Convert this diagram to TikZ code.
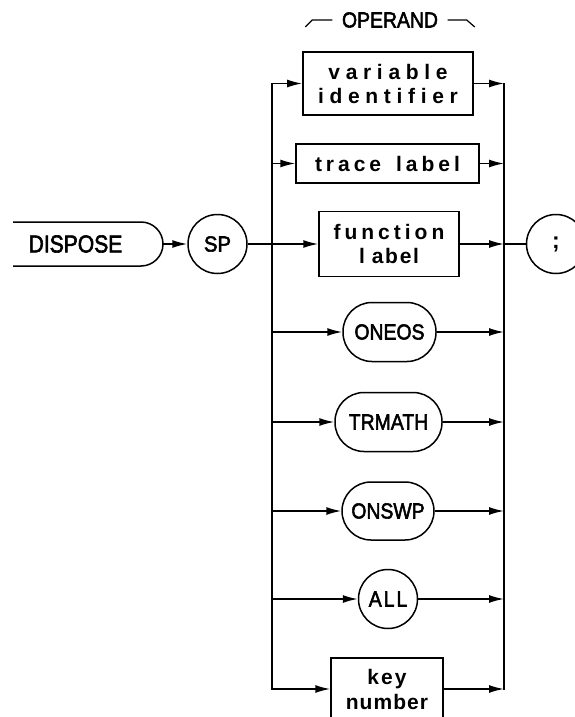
\documentclass[tikz,border=0pt]{standalone}
\usepackage{graphicx}
\usepackage{fontspec}
\setmainfont{Liberation Sans}
\newfontfamily\lowfont[LetterSpace=19]{Liberation Sans Bold}
\newfontfamily\capfont[FakeBold=2.5]{Liberation Sans}
\newcommand{\cn}[1]{\scalebox{0.89}[1]{#1}}
\usetikzlibrary{arrows.meta}
\begin{document}
\begin{tikzpicture}[x=1pt,y=-1pt,line width=1.5pt,
  arr/.style={-{Latex[length=15pt,width=8pt]}},
  bus/.style={line cap=rect},
  lbox/.style={draw,rectangle,align=center,inner sep=0pt,
    font=\lowfont\fontsize{21}{24}\selectfont},
  pill/.style={draw,rectangle,rounded corners=29pt,inner sep=0pt,minimum height=59pt,
    font=\capfont\fontsize{21.8}{24}\selectfont},
  rnd/.style={draw,circle,inner sep=0pt,minimum size=59pt,
    font=\capfont\fontsize{21.8}{24}\selectfont},
  plain/.style={inner sep=0pt,font=\capfont\fontsize{21.8}{24}\selectfont}]
\useasboundingbox (0,0) rectangle (574,717);

% header
\node[plain] (operand) at (390,20) {\cn{OPERAND}};
\draw[line width=1.2pt] ([xshift=-36pt,yshift=-7pt]operand.west) -- ([xshift=-29pt]operand.west) -- ([xshift=-9pt]operand.west);
\draw[line width=1.2pt] ([xshift=9pt]operand.east) -- ([xshift=28pt]operand.east) -- ([xshift=36pt,yshift=-7pt]operand.east);

% entry
\node[plain,font=\capfont\fontsize{24.5}{26}\selectfont] (dispose) at (75.5,244) {\scalebox{0.86}[1]{DISPOSE}};
\draw[rounded corners=22pt] (13,222) -- (163,222) -- (163,266) -- (13,266);
\coordinate (dispR) at (163,244);
\node[rnd] (sp) at (217.5,244) {\scalebox{0.93}[1]{SP}};
\node[rnd,font=\lowfont\fontsize{23}{24}\selectfont] (semi) at (556,244) {;};

% operand alternatives
\node[lbox,minimum width=170pt,minimum height=63pt,line width=1.8pt] (var) at (388,83.5) {\addfontfeature{LetterSpace=27}variable\\\addfontfeature{LetterSpace=27}identifier};
\node[lbox,minimum width=183pt,minimum height=39pt] (trace) at (387.5,163.5) {trace\hspace{15pt}label};
\node[lbox,minimum width=140pt,minimum height=65pt] (func) at (389,244) {function\\l\kern7pt{\addfontfeature{LetterSpace=8}abel}};
\node[pill,minimum width=93pt] (oneos) at (389.5,332) {\cn{ONEOS}};
\node[pill,minimum width=107pt] (trmath) at (388.5,422) {\cn{TRMATH}};
\node[pill,minimum width=92pt,minimum height=58pt] (onswp) at (388,511) {\cn{ONSWP}};
\node[rnd,font=\capfont\fontsize{21.8}{24}\selectfont\addfontfeature{LetterSpace=10}] (all) at (388,599) {\cn{ALL}};
\node[lbox,minimum width=112pt,minimum height=62pt,font=\lowfont\fontsize{21}{25}\selectfont\addfontfeature{LetterSpace=10}] (key) at (387,689) {key\\\addfontfeature{LetterSpace=5}number};

% buses
\coordinate (lt) at (272,83.5);
\coordinate (rt) at (504,83.5);
\draw[bus] (var.west -| lt) -- (key.west -| lt);
\draw[bus] (var.east -| rt) -- (key.east -| rt);

% main line
\draw[arr] (dispR) -- (sp.west);
\draw[arr] (sp.east) -- (func.west);
\draw[arr] (func.east) -- (func.east -| rt);
\draw (func.east -| rt) -- (semi.west);

% branches
\foreach \n in {var,trace,oneos,trmath,onswp,all,key}{
  \draw[arr] (\n.west -| lt) -- (\n.west);
  \draw[arr] (\n.east) -- (\n.east -| rt);
}
\end{tikzpicture}
\end{document}
